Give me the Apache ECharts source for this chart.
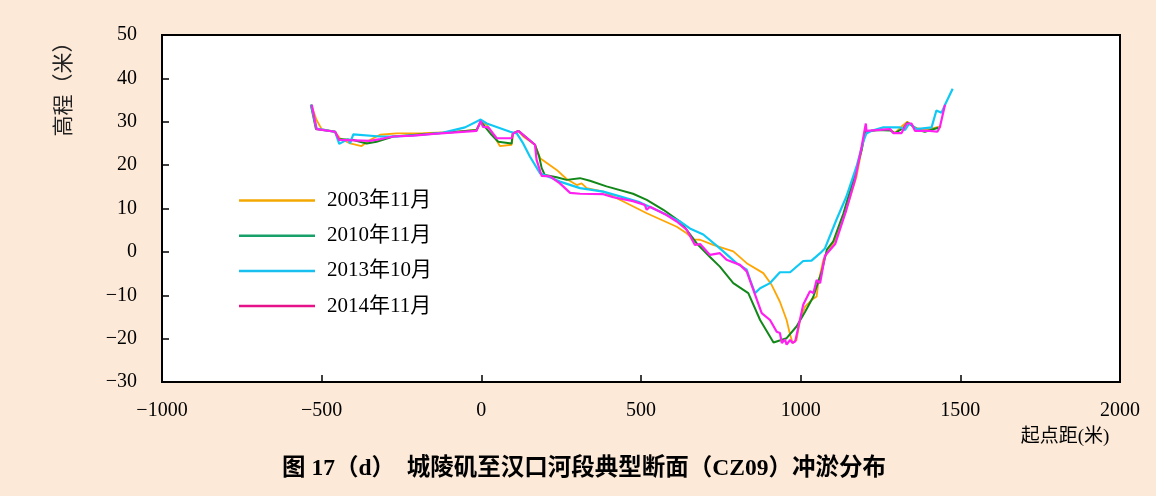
<!DOCTYPE html>
<html>
<head>
<meta charset="utf-8">
<script src="https://cdn.jsdelivr.net/npm/echarts@6/dist/echarts.min.js"></script>
<style>
html,body{margin:0;padding:0;background:#fce9d8;}
#c{width:1156px;height:496px;}
</style>
</head>
<body>
<div id="c"></div>
<script>
const seriesNames = ['2003年11月', '2010年11月', '2013年10月', '2014年11月'];

const s2003 = [[-533,34.0],[-528,33.8],[-516,30.4],[-500,28.3],[-458,27.7],[-443,26.2],[-411,25.0],[-375,24.4],[-349,25.8],[-317,27.0],[-265,27.3],[-182,27.4],[-100,27.6],[-15,28.1],[-2,30.0],[17,29.3],[32,27.7],[58,24.4],[95,24.7],[100,27.3],[116,27.9],[131,26.6],[168,24.7],[184,21.6],[236,18.9],[267,16.8],[299,15.4],[314,15.8],[330,14.7],[382,13.9],[440,11.8],[518,8.9],[612,5.8],[643,4.3],[664,2.9],[685,2.8],[726,1.6],[789,0.1],[831,-2.6],[883,-4.9],[909,-7.6],[935,-11.5],[956,-15.7],[967,-19.1],[975,-21.0],[987,-20.3],[998,-15.7],[1014,-12.6],[1034,-11.1],[1050,-10.3],[1055,-7.2],[1071,-1.8],[1087,0.2],[1108,2.8],[1140,9.0],[1175,17.4],[1191,23.5],[1202,27.7],[1240,28.1],[1280,28.2],[1295,27.4],[1316,28.9],[1334,30.0],[1350,29.0],[1363,28.5],[1394,28.1],[1431,28.8],[1440,28.8]];

const s2010 = [[-534,33.9],[-518,28.3],[-458,27.7],[-448,26.0],[-401,25.8],[-359,25.0],[-328,25.4],[-276,26.6],[-182,27.1],[-100,27.5],[-15,28.1],[-2,30.0],[11,28.9],[32,27.0],[53,25.4],[95,25.0],[98,27.3],[116,27.9],[168,24.7],[181,22.0],[189,19.3],[199,17.7],[236,17.2],[267,16.6],[309,17.0],[340,16.4],[392,15.1],[475,13.4],[518,12.0],[570,9.7],[622,7.0],[643,5.1],[674,2.0],[716,-1.2],[747,-3.4],[789,-7.2],[836,-9.5],[873,-15.7],[915,-20.9],[956,-19.9],[987,-17.2],[1014,-13.8],[1040,-10.3],[1066,-4.5],[1082,0.5],[1102,2.4],[1134,8.9],[1165,16.6],[1191,23.5],[1202,27.7],[1240,28.1],[1280,28.0],[1295,27.4],[1321,28.5],[1334,29.8],[1353,28.9],[1368,28.1],[1389,27.7],[1431,28.6]];

const s2013 = [[-533,34.0],[-516,28.4],[-458,27.7],[-445,24.9],[-417,26.0],[-411,25.0],[-401,27.1],[-317,26.6],[-265,26.6],[-182,27.0],[-119,27.5],[-51,28.7],[-2,30.5],[17,29.6],[90,27.7],[111,27.3],[131,25.0],[152,22.0],[184,18.1],[205,17.5],[246,16.2],[309,14.7],[382,13.9],[434,12.8],[497,11.4],[559,9.3],[622,7.0],[653,5.4],[695,4.0],[747,0.8],[799,-2.6],[831,-4.1],[842,-6.5],[857,-9.5],[873,-8.4],[904,-7.2],[935,-4.7],[967,-4.7],[1008,-2.1],[1034,-2.0],[1061,-0.3],[1076,0.8],[1112,7.4],[1143,12.7],[1175,19.7],[1196,25.4],[1206,27.3],[1222,27.9],[1259,28.7],[1311,28.7],[1327,28.1],[1340,29.6],[1363,28.3],[1410,28.7],[1425,32.6],[1441,32.1],[1452,33.9],[1476,37.6]];

const s2014 = [[-531,33.9],[-516,28.3],[-458,27.7],[-445,25.8],[-349,25.6],[-317,26.0],[-276,26.6],[-213,26.8],[-150,27.2],[-15,27.9],[-2,30.2],[5,28.8],[22,28.7],[48,26.2],[95,26.2],[100,27.3],[116,27.9],[168,24.7],[173,21.2],[189,17.5],[215,17.4],[246,15.8],[278,13.6],[309,13.4],[382,13.3],[413,12.6],[475,11.7],[512,10.8],[518,9.7],[528,10.4],[580,8.5],[612,7.0],[643,5.1],[669,1.6],[685,1.8],[716,-0.7],[747,-0.3],[752,-0.2],[768,-1.8],[810,-3.0],[831,-4.5],[878,-14.1],[904,-15.7],[925,-18.4],[935,-18.7],[941,-21.0],[946,-21.4],[951,-20.2],[956,-21.4],[967,-20.3],[975,-21.0],[983,-20.6],[1008,-12.2],[1029,-9.1],[1040,-9.5],[1050,-6.5],[1061,-7.2],[1076,-0.9],[1108,1.8],[1143,9.7],[1170,16.6],[1191,24.3],[1204,29.6],[1206,27.9],[1280,28.3],[1290,27.4],[1316,27.4],[1332,29.6],[1347,29.6],[1358,27.9],[1405,27.9],[1428,27.7],[1436,28.8],[1452,33.9]];

const lineColors = ['#ffa500', '#13881a', '#10c8f4', '#ff1ff0'];
const legendColors = ['#f2a800', '#18a06a', '#18c0f0', '#e5128a'];
const lineWidths = [1.8, 2, 2.2, 2.2];
const allData = [s2003, s2010, s2013, s2014];

const serif = '"Liberation Serif", "Times New Roman", "Noto Sans CJK SC", serif';
const fmt = v => String(v).replace('-', '\u2212');

const chart = echarts.init(document.getElementById('c'), null, {renderer: 'canvas'});
chart.setOption({
  animation: false,
  backgroundColor: '#fce9d8',
  title: {
    text: '图 17（d）  城陵矶至汉口河段典型断面（CZ09）冲淤分布',
    left: 579,
    textAlign: 'center',
    top: 452,
    textStyle: {fontFamily: serif, fontSize: 23.5, fontWeight: 'bold', color: '#000'}
  },
  grid: {
    left: 162, right: 36, top: 35, bottom: 114,
    show: true, backgroundColor: '#fff', borderColor: '#000', borderWidth: 2
  },
  legend: {
    orient: 'vertical',
    left: 234, top: 185,
    icon: 'rect',
    itemWidth: 76, itemHeight: 2.5, itemGap: 14.2,
    textStyle: {fontFamily: serif, fontSize: 21, color: '#000', padding: [0, 0, 0, 7]},
    data: seriesNames.map((n, i) => ({
      name: n,
      itemStyle: {color: legendColors[i]}
    }))
  },
  xAxis: {
    type: 'value', min: -1000, max: 2000, interval: 500,
    axisLine: {show: true, onZero: false, lineStyle: {color: '#000', width: 2}},
    axisTick: {show: true, inside: true, length: 7, lineStyle: {color: '#000', width: 1.5}},
    axisLabel: {color: '#000', fontFamily: serif, fontSize: 20, margin: 19, formatter: fmt},
    splitLine: {show: false}
  },
  yAxis: {
    type: 'value', min: -30, max: 50, interval: 10,
    axisLine: {show: true, onZero: false, lineStyle: {color: '#000', width: 2}},
    axisTick: {show: true, inside: true, length: 7, lineStyle: {color: '#000', width: 1.5}},
    axisLabel: {color: '#000', fontFamily: serif, fontSize: 20, margin: 25, formatter: fmt},
    splitLine: {show: false}
  },
  graphic: [
    {type: 'text', x: 62, y: 84, rotation: Math.PI / 2,
     style: {text: '高程（米）', font: '21px "Noto Sans CJK SC"', fill: '#222', align: 'center', verticalAlign: 'middle'}},
    {type: 'text', x: 1065, y: 437,
     style: {text: '起点距(米)', font: '19px ' + serif, fill: '#000', align: 'center', verticalAlign: 'middle'}}
  ],
  series: allData.map((d, i) => ({
    name: seriesNames[i],
    type: 'line',
    data: d,
    symbol: 'none',
    lineStyle: {color: lineColors[i], width: lineWidths[i]},
    itemStyle: {color: lineColors[i]}
  }))
});
</script>
</body>
</html>
